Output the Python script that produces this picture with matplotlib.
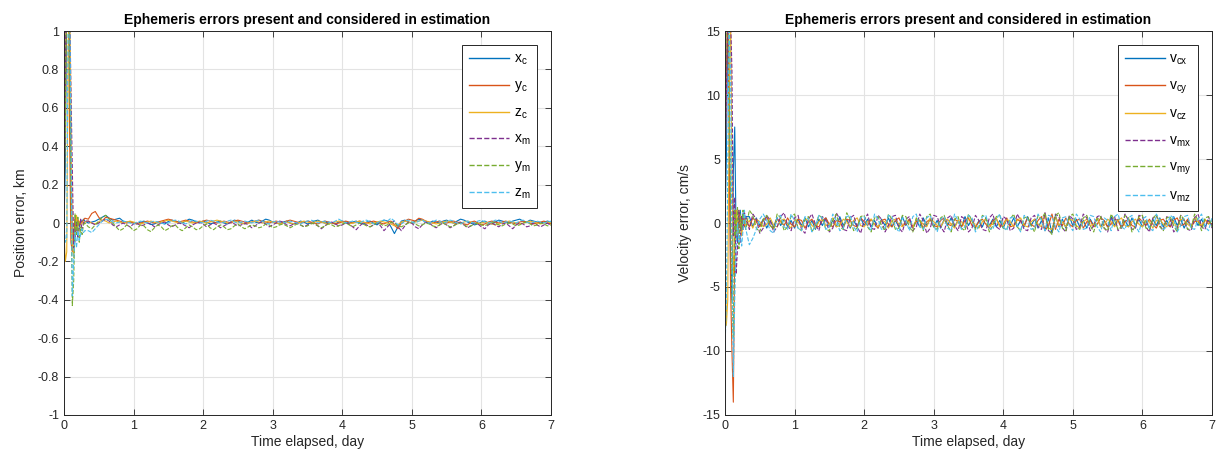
import numpy as np
import matplotlib
matplotlib.use("Agg")
import matplotlib.pyplot as plt

## DATA

# sample times: fine steps during the transient, coarser afterwards
t = np.concatenate([np.arange(0, 0.301, 0.02), np.arange(0.35, 7.001, 0.05)])

# position errors in metres (early transient, then steady state)
xc_pos = [0, 300, 1200, 1500, 900, 250, -60, -90, 20, -40, 10, -20, 15, 5, 20, 10,
          0, 5, 10, 20, 30, 40, 25, 15, 20, 25,
          10, 5, 8, 0, -5, 5, 10, 0, -8, -5,
          5, 0, -5, 8, 15, 10, 5, 0, 10, 20,
          15, 5, 0, 10, 5, -5, 0, 5, 10, 0,
          -5, 5, 15, 10, 0, -5, 5, 15, 5, 0,
          10, 20, 15, 5, 0, -5, 5, 10, 0, -5,
          0, 10, 5, -5, 0, 10, 15, 5, 0, 5,
          0, -5, 5, 10, 5, 0, 5, 10, 0, -5,
          5, 10, 0, -10, 5, 15, 10, -20, -55, -20,
          10, 15, 5, 0, 10, 20, 15, 5, 0, 10,
          5, 0, 10, 15, 5, 0, 10, 20, 15, 5,
          0, -10, -5, 5, 10, 0, -5, 5, 15, 10,
          5, 0, 10, 15, 20, 10, 5, 15, 10, 5,
          0, 5, 10, 5]
yc_pos = [50, 600, 1400, 1300, 500, -100, -150, -50, 30, -30, 20, -10, 10, 0, 15, 25,
          20, 50, 60, 30, 10, 30, 25, 20, 15, 10,
          5, 0, 5, 0, -5, 0, 5, 10, 5, 0,
          5, 10, 15, 20, 15, 10, 5, 10, 15, 10,
          5, 0, 5, 10, 15, 10, 5, 0, 5, 10,
          5, 0, 10, 15, 10, 5, 0, 5, 10, 15,
          10, 5, 0, 5, 10, 5, 0, 10, 15, 10,
          5, 0, 5, 10, 5, 0, -5, 5, 10, 5,
          0, -5, 0, 5, 10, 5, 0, 5, 10, 5,
          0, 5, 10, 5, 0, -5, 5, 10, -10, -30,
          0, 10, 20, 15, 10, 25, 20, 10, 5, 0,
          5, 10, 5, 0, 5, 10, 5, 0, -5, -10,
          5, 10, 0, -10, -5, 5, 10, 5, 0, 5,
          10, 5, 0, -5, 5, 10, 5, 0, -5, 0,
          5, 10, 0, -5]
zc_pos = [-50, -200, -150, 900, 1300, 600, -100, -180, -60, 40, -20, 10, -10, 5, 0, 5,
          10, 0, -5, 5, 15, 10, 0, 5, 10, 5,
          0, 5, 10, 5, 0, -5, 0, 5, 10, 5,
          0, 5, 10, 15, 10, 5, 0, 5, 10, 5,
          0, 5, 10, 5, 0, 5, 10, 15, 10, 5,
          0, 5, 10, 5, 0, -5, 0, 5, 10, 5,
          0, 5, 10, 5, 0, -5, 0, 5, 0, -5,
          0, 5, 10, 5, 0, 5, 10, 5, 0, -5,
          0, 5, 10, 5, 0, -5, 0, 5, 10, 5,
          0, -5, 0, 5, 10, 5, 0, -5, -15, -10,
          5, 10, 5, 0, 5, 10, 15, 10, 5, 0,
          -5, 0, 5, 10, 5, 0, -5, 0, 5, 10,
          5, 0, -5, 0, 5, 0, -5, -10, -5, 0,
          5, 10, 5, 0, -5, 0, 5, 10, 5, 0,
          -5, 0, 5, 0]
xm_pos = [100, 800, 1500, 1400, 1200, 700, 300, -130, -90, 10, -80, -30, 20, -40, 0, 10,
          10, 0, -10, 0, 10, 20, 10, -10, -20, -10,
          0, -10, -20, -5, 0, -15, -10, 0, -5, -20,
          -10, 0, 5, -10, -20, -10, 0, -5, -15, -25,
          -10, 0, 5, -5, -20, -10, 0, -10, -25, -15,
          -5, 5, -5, -15, -10, 0, -10, -25, -15, 0,
          5, -5, -20, -10, 0, 10, 5, -10, -15, -5,
          0, -10, -20, -10, 0, -5, -15, -30, -15, 0,
          5, -5, -15, -10, 0, -5, -20, -35, -15, 0,
          -10, -20, -10, 0, -15, -40, -20, 0, 10, -20,
          -40, -15, 5, 0, -20, -30, -10, 5, 0, -15,
          -25, -10, 0, -10, -25, -15, 0, 5, -10, -25,
          -15, 0, -5, -20, -30, -10, 0, -10, -20, -5,
          0, -15, -30, -10, 0, -5, -20, -15, 0, -10,
          -20, -10, 0, -15]
ym_pos = [80, 500, 1300, 1200, 800, 200, -430, -300, 50, -60, 30, -100, -20, -60, -10, 0,
          -20, -30, -10, 10, 30, 40, 20, 0, -20, -40,
          -30, -10, -20, -40, -30, -10, -15, -35, -45, -25,
          -10, -20, -40, -30, -15, -10, -30, -40, -25, -10,
          -20, -35, -30, -15, -5, -25, -35, -20, -10, -20,
          -35, -30, -15, -5, -20, -30, -20, -10, -15, -25,
          -20, -5, -10, -25, -20, -10, -5, -15, -25, -15,
          -5, -10, -20, -15, -5, 0, -15, -25, -15, -5,
          -10, -20, -15, -5, 0, -10, -20, -10, 0, -5,
          -15, -20, -10, 0, -5, -15, -10, 5, 0, -15,
          -20, -10, 0, 5, -5, -15, -10, 0, -5, -15,
          -20, -10, 0, -10, -20, -15, -5, 0, -10, -20,
          -15, -5, 0, -10, -15, -5, 5, 0, -10, -15,
          -5, 0, -5, -15, -10, 0, 5, -5, -15, -10,
          0, -5, -15, -10]
zm_pos = [0, -100, -80, 1100, 1200, 500, -380, -200, -50, -130, -40, -90, -60, -30, -50, -40,
          -40, -50, -30, -10, 10, 20, 15, 5, 0, 5,
          10, 5, 0, -5, 5, 10, 5, 0, 5, 10,
          5, 0, -5, 0, 10, 15, 10, 0, -5, 5,
          15, 10, 5, 0, 10, 15, 10, 5, 0, 5,
          10, 15, 5, 0, 5, 10, 5, 0, 10, 15,
          10, 0, -5, 5, 10, 5, 0, 5, 10, 5,
          0, -5, 5, 10, 15, 10, 0, 5, 10, 5,
          0, 10, 20, 10, 0, 5, 10, 5, 0, 10,
          15, 5, -5, 0, 10, 15, 10, 25, 10, -10,
          -5, 10, 15, 5, 0, 10, 15, 5, 0, 5,
          15, 10, 0, 5, 15, 10, 0, -5, 5, 10,
          5, 0, 10, 15, 5, 0, 5, 15, 10, 0,
          5, 10, 5, 0, 10, 15, 5, 0, 5, 10,
          5, 0, 5, 10]

# velocity errors in 0.1 cm/s
vcx = [0, 50, 160, 120, -30, -60, 40, 75, -10, -15, 5, 10, -5, 8, 0, 5,
       5, -3, 4, -2, 3, -4, 2, -3, 4, -2,
       3, -3, 2, -4, 3, -2, 4, -3, 2, -5,
       3, -2, 4, -3, 2, -3, 5, -2, 3, -4,
       2, -3, 4, -2, 3, -3, 2, -4, 3, -2,
       4, -3, 2, -3, 5, -2, 3, -4, 2, -3,
       4, -2, 3, -3, 2, -4, 3, -2, 4, -3,
       2, -3, 5, -2, 3, -4, 2, -3, 4, -2,
       3, -3, 2, -4, 3, -2, 4, -3, 2, -3,
       5, -2, 3, -4, 2, -6, 4, -8, 6, -3,
       3, -4, 5, -2, 3, -3, 2, -4, 3, -2,
       4, -3, 2, -3, 5, -2, 3, -4, 2, -3,
       4, -2, 3, -3, 2, -4, 3, -2, 4, -3,
       2, -3, 5, -2, 3, -4, 2, -3, 4, -2,
       3, -3, 2, -2]
vcy = [30, 120, 170, 60, -50, -100, -140, -20, 10, -10, 8, -5, 5, 0, -3, 2,
       -3, 4, 1, -3, 2, 5, -2, -4, 3, 1,
       -2, 4, -1, -3, 3, 2, -4, 1, 3, -2,
       -3, 2, 4, -1, -3, 2, 1, -4, 3, 2,
       -2, -3, 4, 1, -2, 3, -1, -4, 2, 3,
       -1, -3, 2, 4, -2, -1, 3, -3, 1, 2,
       -4, 1, 3, -2, -3, 2, 4, -1, -2, 3,
       1, -3, 2, 4, -2, -3, 1, 3, -1, -4,
       2, 3, -2, -1, 4, -3, -2, 3, 1, -2,
       4, -1, -3, 2, 5, -6, -2, 7, -5, 3,
       -2, 4, -1, -3, 2, 3, -4, 1, 2, -3,
       -1, 4, 2, -3, -1, 3, 2, -4, 1, 3,
       -2, -3, 4, 1, -2, 3, -1, -4, 2, 3,
       -1, -3, 2, 4, -2, -1, 3, -3, 1, 2,
       -3, 2, 1, -1]
vcz = [-20, -80, -60, 100, 170, 40, -40, -20, 10, -8, 10, 5, -10, 0, 5, -2,
       2, -4, 3, 1, -3, -1, 4, -2, -3, 2,
       3, -1, -4, 2, 1, -3, 3, 2, -2, -4,
       1, 3, -2, -1, 4, -3, -2, 3, 1, -3,
       2, 4, -2, -3, 1, 3, -1, -3, 2, 1,
       -4, 2, 3, -1, -3, 2, 1, -4, 3, 2,
       -1, -3, 4, 1, -2, -3, 2, 3, -1, -4,
       2, 1, -3, 3, 2, -2, -4, 1, 3, -2,
       -1, 4, -3, -2, 3, 1, -3, 2, 4, -2,
       -3, 1, 3, -1, -3, 6, -4, -5, 5, -2,
       1, -3, 3, 2, -2, -4, 1, 3, -2, -1,
       4, -3, -2, 3, 1, -3, 2, 4, -2, -3,
       1, 3, -1, -3, 2, 1, -4, 2, 3, -1,
       -3, 2, 1, -4, 3, 2, -1, -3, 4, 1,
       -2, 3, -1, 2]
vmx = [50, 100, 170, 180, 160, 120, -10, 20, -40, -20, 10, -15, 5, -5, 8, 5,
       -5, 7, 3, -8, -4, 6, 2, -7, -3, 5,
       8, -2, -6, 4, 6, -5, -8, 3, 7, -1,
       -6, 5, 2, -7, -4, 8, 3, -5, -6, 4,
       6, -3, -8, 2, 7, -4, -5, 6, 3, -7,
       -2, 5, 6, -4, -7, 3, 5, -6, -3, 7,
       2, -8, -4, 6, 5, -3, -7, 4, 6, -2,
       -6, 5, 3, -7, -4, 6, 2, -5, -6, 4,
       7, -3, -5, 5, 3, -6, -4, 7, 2, -5,
       -6, 4, 6, -3, -5, 8, -6, -8, 7, 5,
       -4, -7, 6, 3, -5, -3, 7, 4, -6, -2,
       5, 6, -4, -7, 3, 5, -6, -3, 7, 2,
       -5, -4, 6, 5, -3, -7, 4, 6, -2, -6,
       5, 3, -7, -4, 6, 2, -5, -6, 4, 7,
       -3, -5, 5, -4]
vmy = [90, 160, 180, 100, 20, -60, -90, 10, -10, 12, -20, 5, -5, 10, 0, -5,
       10, 6, -4, -7, 3, 6, -2, -5, 7, 4,
       -6, -3, 5, 7, -4, -6, 3, 5, -7, -2,
       6, 4, -5, -6, 2, 7, -3, -5, 8, 3,
       -6, -4, 5, 6, -3, -7, 4, 5, -2, -6,
       7, 3, -5, -4, 6, 5, -3, -7, 4, 2,
       -6, 5, 7, -3, -5, 4, 6, -2, -7, 3,
       5, -4, -6, 7, 2, -5, -3, 6, 4, -7,
       -2, 5, 6, -4, -5, 3, 7, -3, -6, 4,
       5, -2, -7, 6, 3, 8, -5, -9, 6, 8,
       -4, -6, 5, 7, -3, -5, 4, 6, -2, -7,
       3, 5, -4, -6, 7, 2, -5, -3, 6, 4,
       -7, -2, 5, 6, -4, -5, 3, 7, -3, -6,
       4, 5, -2, -7, 6, 3, -5, -4, 7, 2,
       -6, 4, 5, -3]
vmz = [-100, -60, 40, 150, 120, -20, -120, -60, -20, 0, -15, -10, -18, -5, 10, -5,
       -17, -12, -5, 3, 7, 2, -6, -8, 4, 6,
       -3, -5, 7, 2, -4, -6, 5, 3, -7, -2,
       6, 4, -5, -3, 7, 2, -6, -4, 5, 6,
       -3, -7, 4, 5, -2, -6, 7, 3, -5, -4,
       6, 5, -3, -7, 4, 2, -6, 5, 7, -3,
       -5, 4, 6, -2, -7, 3, 5, -4, -6, 7,
       2, -5, -3, 6, 4, -7, -2, 5, 6, -4,
       -5, 3, 7, -3, -6, 4, 5, -2, -7, 6,
       3, -5, -4, 7, 2, -6, 6, 5, -3, -7,
       4, 5, -2, -6, 7, 3, -5, -4, 6, 5,
       -3, -7, 4, 2, -6, 5, 7, -3, -5, 4,
       6, -2, -7, 3, 5, -4, -6, 7, 2, -5,
       -3, 6, 4, -7, -2, 5, 6, -4, -5, 3,
       7, -3, -6, 4]

pos_series = [xc_pos, yc_pos, zc_pos, xm_pos, ym_pos, zm_pos]
vel_series = [vcx, vcy, vcz, vmx, vmy, vmz]
pos_labels = [r'x$_\mathregular{c}$', r'y$_\mathregular{c}$', r'z$_\mathregular{c}$',
              r'x$_\mathregular{m}$', r'y$_\mathregular{m}$', r'z$_\mathregular{m}$']
vel_labels = [r'v$_\mathregular{cx}$', r'v$_\mathregular{cy}$', r'v$_\mathregular{cz}$',
              r'v$_\mathregular{mx}$', r'v$_\mathregular{my}$', r'v$_\mathregular{mz}$']

pos_ticks = [-1, -0.8, -0.6, -0.4, -0.2, 0, 0.2, 0.4, 0.6, 0.8, 1]
pos_ticklabels = ['-1', '-0.8', '-0.6', '-0.4', '-0.2', '0', '0.2', '0.4', '0.6', '0.8', '1']
vel_ticks = [-15, -10, -5, 0, 5, 10, 15]

## STYLE (MATLAB look)
colors = ['#0072BD', '#D95319', '#EDB120', '#7E2F8E', '#77AC30', '#4DBEEE']
styles = ['-', '-', '-', '--', '--', '--']

plt.rcParams['font.family'] = ['Liberation Sans', 'DejaVu Sans']
plt.rcParams['mathtext.fontset'] = 'custom'
plt.rcParams['mathtext.rm'] = 'Liberation Sans'
plt.rcParams['axes.unicode_minus'] = False

fig = plt.figure(figsize=(12.16, 4.63), dpi=100)
ax1 = fig.add_axes([0.0526, 0.1037, 0.4005, 0.8293])
ax2 = fig.add_axes([0.5962, 0.1037, 0.4005, 0.8293])


def style_axes(ax, title, ylabel):
    ax.set_xlim(0, 7)
    ax.set_title(title, fontsize=10, fontweight='bold', pad=5)
    ax.set_xlabel("Time elapsed, day", fontsize=10, color='#262626', labelpad=2)
    ax.set_ylabel(ylabel, fontsize=10, color='#262626', labelpad=7)
    ax.grid(True, color='#e3e3e3', linewidth=0.8)
    ax.set_axisbelow(True)
    ax.tick_params(direction='in', top=True, right=True, labelsize=9,
                   colors='#262626', length=4, width=0.6)
    for s in ax.spines.values():
        s.set_color('#262626')
        s.set_linewidth(0.7)
    leg = ax.legend(loc='upper right', fontsize=10, handlelength=2.9,
                    fancybox=False, framealpha=1, edgecolor='#262626',
                    labelspacing=0.8, borderpad=0.5, handletextpad=0.3,
                    borderaxespad=1.0)
    leg.get_frame().set_linewidth(0.7)
    for line in leg.get_lines():
        line.set_linewidth(1.0)


for vals, lab, c, ls in zip(pos_series, pos_labels, colors, styles):
    ax1.plot(t, np.array(vals) / 1000.0, ls, color=c, linewidth=0.8, label=lab)
ax1.set_ylim(-1, 1)
ax1.set_yticks(pos_ticks)
ax1.set_yticklabels(pos_ticklabels)
style_axes(ax1, "Ephemeris errors present and considered in estimation", "Position error, km")

for vals, lab, c, ls in zip(vel_series, vel_labels, colors, styles):
    ax2.plot(t, np.array(vals) / 10.0, ls, color=c, linewidth=0.8, label=lab)
ax2.set_ylim(-15, 15)
ax2.set_yticks(vel_ticks)
style_axes(ax2, "Ephemeris errors present and considered in estimation", "Velocity error, cm/s")

fig.savefig("out.png", dpi=100)
